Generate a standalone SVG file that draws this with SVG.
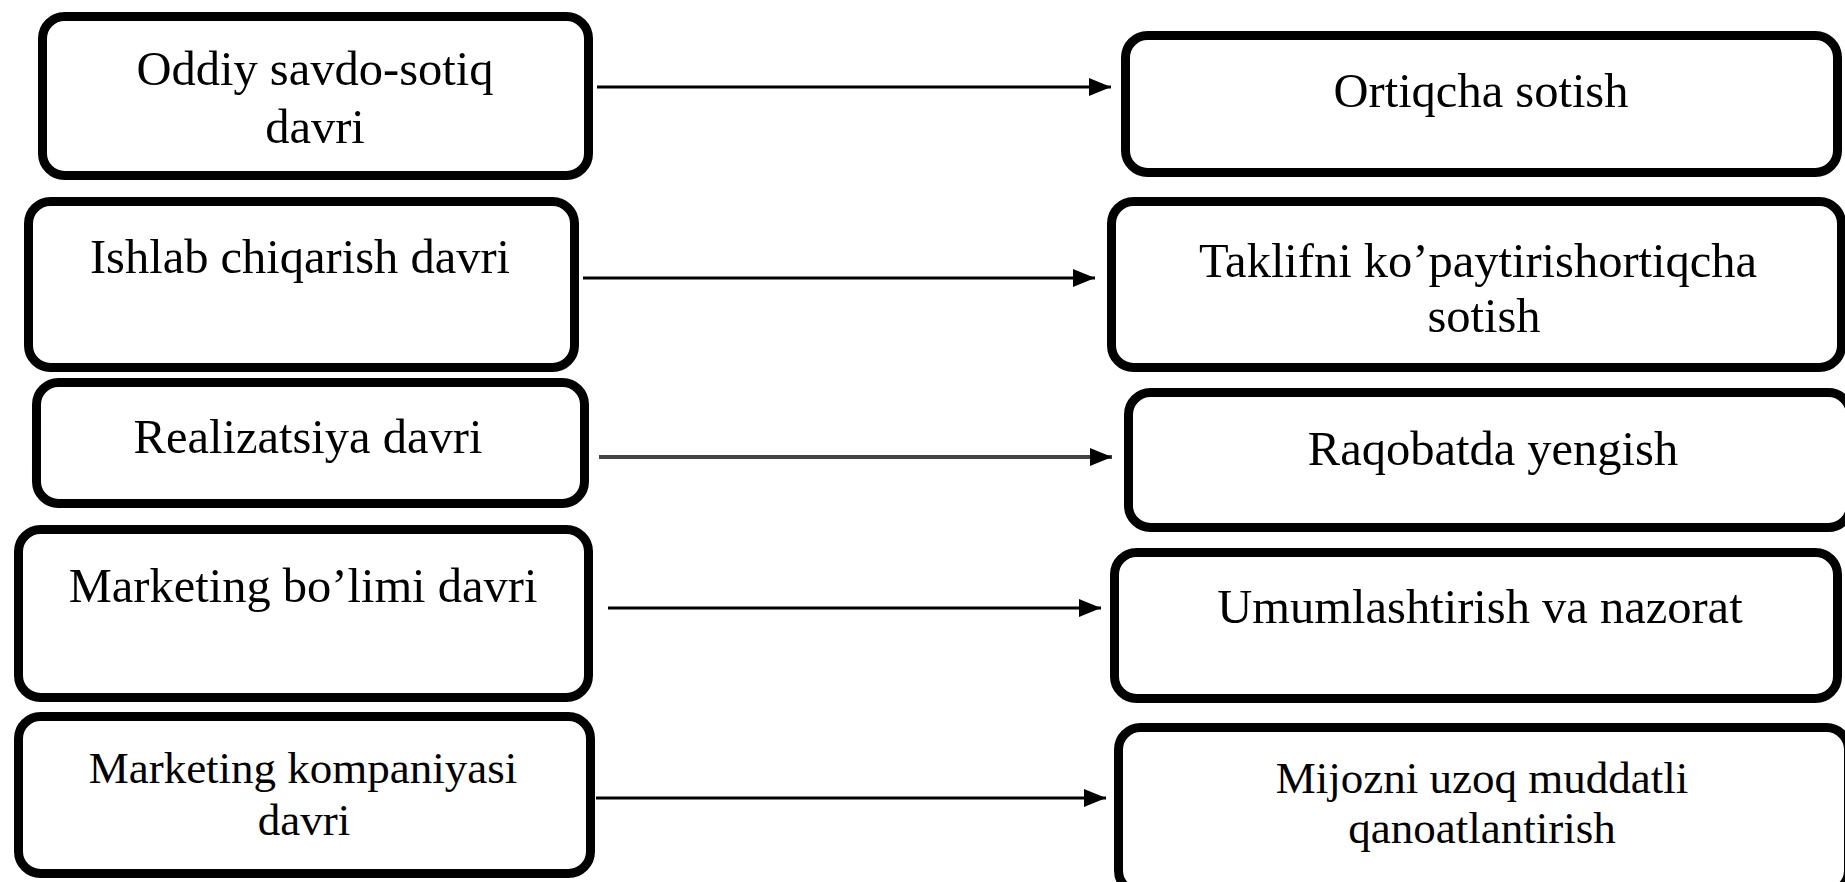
<svg xmlns="http://www.w3.org/2000/svg" width="1845" height="882" viewBox="0 0 1845 882">
<defs>
<style>
.box{fill:#fff;stroke:#000;stroke-width:9}
.t{font-family:"Liberation Serif","Times New Roman",serif;font-size:48.5px;fill:#000;text-anchor:middle}
.s{font-size:45px}
.c{stroke:#000;stroke-width:3;fill:none}
</style>
<marker id="ah" markerUnits="userSpaceOnUse" markerWidth="22" markerHeight="18" refX="22" refY="9" orient="auto">
<path d="M0,0 L22,9 L0,18 Z" fill="#000"/>
</marker>
</defs>
<rect width="1845" height="882" fill="#fff"/>
<g id="connectors">
<line class="c" x1="597" y1="87" x2="1111" y2="87" marker-end="url(#ah)"/>
<line class="c" x1="583" y1="278" x2="1095" y2="278" marker-end="url(#ah)"/>
<line class="c" x1="599" y1="457" x2="1112" y2="457" marker-end="url(#ah)" style="stroke:#444;stroke-width:4"/>
<line class="c" x1="608" y1="608" x2="1101" y2="608" marker-end="url(#ah)"/>
<line class="c" x1="596" y1="798" x2="1106" y2="798" marker-end="url(#ah)"/>
</g>
<g id="L1"><rect class="box" x="42.5" y="16.5" width="546" height="159" rx="22"/><text class="t" x="315" y="85">Oddiy savdo-sotiq</text><text class="t" x="315" y="143">davri</text></g>
<g id="L2"><rect class="box" x="28.5" y="201.5" width="546" height="166" rx="22"/><text class="t" x="300" y="273">Ishlab chiqarish davri</text></g>
<g id="L3"><rect class="box" x="36.5" y="382.5" width="548" height="121" rx="22"/><text class="t" x="308" y="453">Realizatsiya davri</text></g>
<g id="L4"><rect class="box" x="18.5" y="529.5" width="570" height="168" rx="22"/><text class="t" x="303" y="602">Marketing bo’limi davri</text></g>
<g id="L5"><rect class="box" x="18.5" y="716.5" width="572" height="157" rx="22"/><text class="t s" x="303" y="783">Marketing kompaniyasi</text><text class="t s" x="304" y="835">davri</text></g>
<g id="R1"><rect class="box" x="1125.5" y="35.5" width="712" height="137" rx="22"/><text class="t" x="1481" y="107">Ortiqcha sotish</text></g>
<g id="R2"><rect class="box" x="1111.5" y="201.5" width="730" height="166" rx="22"/><text class="t" x="1478" y="277">Taklifni ko’paytirishortiqcha</text><text class="t" x="1484" y="332">sotish</text></g>
<g id="R3"><rect class="box" x="1128.5" y="392.5" width="722" height="135" rx="22"/><text class="t" x="1493" y="465">Raqobatda yengish</text></g>
<g id="R4"><rect class="box" x="1114.5" y="552.5" width="723" height="146" rx="22"/><text class="t" x="1480" y="623">Umumlashtirish va nazorat</text></g>
<g id="R5"><rect class="box" x="1118.5" y="727.5" width="730" height="165" rx="22"/><text class="t s" x="1482" y="793">Mijozni uzoq muddatli</text><text class="t s" x="1482" y="843">qanoatlantirish</text></g>
</svg>
